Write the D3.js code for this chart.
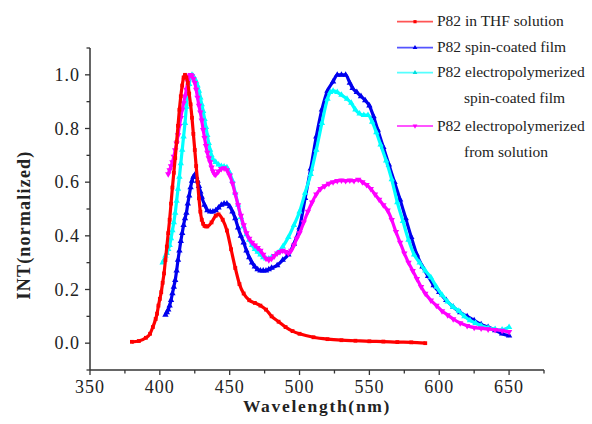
<!DOCTYPE html>
<html><head><meta charset="utf-8">
<script src="https://cdn.jsdelivr.net/npm/d3@7"></script>
<style>
body{margin:0;background:#fff;}
svg{display:block;}
</style></head>
<body><svg id="chart" width="592" height="424" font-family="'Liberation Serif','Times New Roman','DejaVu Serif',serif"></svg>
<script>
// ---- data ----
const redWl  = [380,385,390,393,395,397,398,399,400,401,402,403,404,405,406,407,408,409,410,411,412,413,414,415,416,417,418,419,420,421,422,423,424,425,426,427,428,429,430,431,432,433,434,437,440,442,445,448,451,454,457,460,464,468,472,476,480,485,490,495,500,510,520,530,540,550,560,570,580,590];
const redInt = [0.005,0.008,0.02,0.035,0.06,0.09,0.11,0.14,0.165,0.19,0.225,0.26,0.31,0.36,0.41,0.46,0.52,0.58,0.635,0.69,0.75,0.81,0.87,0.92,0.96,0.99,1.0,0.99,0.97,0.93,0.89,0.84,0.78,0.72,0.66,0.6,0.54,0.49,0.46,0.445,0.437,0.435,0.435,0.45,0.475,0.48,0.46,0.42,0.35,0.28,0.22,0.185,0.16,0.15,0.14,0.125,0.1,0.08,0.06,0.045,0.035,0.022,0.015,0.011,0.009,0.007,0.006,0.004,0.003,0.0];

const blueWl  = [404,405,406,407,408,409,410,411,412,413,414,415,416,417,418,419,420,421,422,423,424,425,426,427,428,429,430,432,434,436,438,440,442,444,446,448,450,452,454,456,458,460,462,464,466,468,470,472,474,476,478,480,484,488,492,496,500,504,508,512,516,520,524,527,530,533,536,538,541,544,547,550,553,556,560,564,568,572,576,580,584,588,592,596,600,605,610,615,620,625,630,635,640,645,650];
const blueInt = [0.105,0.115,0.125,0.14,0.16,0.185,0.21,0.235,0.27,0.31,0.345,0.38,0.41,0.44,0.465,0.485,0.52,0.55,0.58,0.605,0.62,0.627,0.62,0.605,0.585,0.565,0.545,0.515,0.495,0.49,0.49,0.495,0.505,0.515,0.52,0.52,0.51,0.49,0.465,0.43,0.4,0.375,0.345,0.32,0.3,0.285,0.275,0.27,0.27,0.27,0.275,0.28,0.29,0.31,0.33,0.37,0.43,0.54,0.65,0.77,0.87,0.94,0.975,1.0,1.0,1.0,0.97,0.95,0.935,0.92,0.905,0.885,0.845,0.795,0.73,0.665,0.6,0.535,0.465,0.395,0.33,0.285,0.25,0.215,0.19,0.16,0.135,0.115,0.1,0.085,0.07,0.06,0.048,0.035,0.028];

const cyanWl  = [402,403,404,405,406,407,408,409,410,411,412,413,414,415,416,417,418,419,420,421,422,423,424,425,426,427,428,429,430,431,432,433,434,435,436,437,438,440,442,444,446,448,450,452,454,456,458,460,462,464,466,468,470,472,474,476,478,480,484,488,492,496,500,504,508,512,516,520,522,524,527,530,534,537,540,543,546,549,552,555,558,562,566,570,574,578,582,586,590,594,598,602,606,610,614,618,622,626,630,635,640,645,650];
const cyanInt = [0.3,0.31,0.325,0.335,0.35,0.365,0.39,0.42,0.45,0.485,0.53,0.575,0.62,0.67,0.72,0.77,0.82,0.88,0.93,0.965,0.99,1.0,0.995,0.985,0.975,0.96,0.94,0.915,0.89,0.865,0.835,0.805,0.775,0.745,0.72,0.7,0.685,0.675,0.665,0.66,0.658,0.655,0.635,0.605,0.56,0.515,0.47,0.435,0.405,0.385,0.365,0.35,0.34,0.33,0.32,0.315,0.315,0.32,0.335,0.36,0.395,0.44,0.49,0.56,0.63,0.72,0.82,0.91,0.935,0.94,0.935,0.925,0.91,0.895,0.87,0.855,0.85,0.85,0.825,0.785,0.74,0.68,0.61,0.525,0.455,0.385,0.33,0.3,0.27,0.245,0.21,0.18,0.155,0.135,0.12,0.1,0.085,0.075,0.065,0.057,0.052,0.05,0.06];

const magWl  = [406,407,408,409,410,411,412,413,414,415,416,417,418,419,420,421,422,423,424,425,426,427,428,429,430,431,432,433,434,435,436,437,438,439,440,442,444,446,448,450,452,454,456,458,460,462,464,466,468,470,472,474,476,478,480,482,484,486,488,490,492,494,496,498,500,503,506,509,512,515,518,521,524,527,530,533,536,539,542,545,548,551,554,557,560,563,566,569,572,575,578,581,584,587,590,594,598,602,606,610,615,620,625,630,635,640,645,650];
const magInt = [0.63,0.645,0.66,0.675,0.695,0.72,0.745,0.775,0.81,0.84,0.87,0.895,0.92,0.945,0.975,0.995,1.0,0.995,0.985,0.97,0.945,0.915,0.885,0.86,0.83,0.795,0.765,0.735,0.71,0.69,0.675,0.655,0.64,0.63,0.628,0.64,0.65,0.652,0.645,0.625,0.595,0.555,0.515,0.475,0.44,0.41,0.39,0.375,0.365,0.355,0.345,0.33,0.315,0.31,0.315,0.325,0.335,0.34,0.345,0.34,0.335,0.345,0.365,0.39,0.41,0.45,0.49,0.525,0.555,0.575,0.585,0.595,0.6,0.605,0.607,0.605,0.607,0.605,0.61,0.6,0.59,0.575,0.555,0.535,0.515,0.495,0.46,0.415,0.375,0.335,0.3,0.27,0.24,0.21,0.185,0.16,0.14,0.12,0.105,0.09,0.075,0.065,0.058,0.055,0.052,0.05,0.047,0.042];

const xTicks = [350,400,450,500,550,600,650];
const yTicks = [0.0,0.2,0.4,0.6,0.8,1.0];
const seriesNames = ["P82 in THF solution","P82 spin-coated film","P82 electropolymerized","P82 electropolymerized"];
const seriesNames2 = ["","","spin-coated film","from solution"];
const xTitle = "Wavelength(nm)";
const yTitle = "INT(normalized)";

// ---- chart ----
const svg = d3.select("#chart");
const x = d3.scaleLinear().domain([350,675]).range([90,544]);
const y = d3.scaleLinear().domain([-0.1,1.1]).range([370,48]);

const series = [
  {wl:blueWl, v:blueInt, color:"#0000ee", sym:d3.symbolTriangle, rot:0, size:11},
  {wl:cyanWl, v:cyanInt, color:"#00ffff", sym:d3.symbolTriangle, rot:0, size:11},
  {wl:magWl,  v:magInt,  color:"#ff00ff", sym:d3.symbolTriangle, rot:180, size:11},
  {wl:redWl,  v:redInt,  color:"#ff0000", sym:d3.symbolSquare, rot:0, size:9}
];

const line = d3.line().x(d=>x(d[0])).y(d=>y(d[1])).curve(d3.curveMonotoneX);
series.forEach(s=>{
  const pts = s.wl.map((w,i)=>[w,s.v[i]]);
  svg.append("path").datum(pts).attr("d",line)
    .attr("fill","none").attr("stroke",s.color).attr("stroke-width",3.2).attr("stroke-linejoin","round");
  svg.append("g").selectAll("path").data(pts).join("path")
    .attr("d",d3.symbol().type(s.sym).size(s.size*1.6))
    .attr("transform",d=>`translate(${x(d[0])},${y(d[1])}) rotate(${s.rot})`)
    .attr("fill",s.color);
});

// axes
const axisColor = "#333";
const textColor = "#222";
const xAxis = svg.append("g").attr("transform","translate(0,370)");
xAxis.append("line").attr("x1",90).attr("x2",544).attr("stroke",axisColor).attr("stroke-width",1.5);
d3.range(350,676,25).forEach(v=>{
  const major = v%50===0;
  xAxis.append("line").attr("x1",x(v)).attr("x2",x(v)).attr("y1",0).attr("y2",major?5:3.5)
    .attr("stroke",axisColor).attr("stroke-width",1.3);
});
xAxis.selectAll("text.tl").data(xTicks).join("text").attr("class","tl")
  .attr("x",d=>x(d)).attr("y",23).attr("text-anchor","middle").attr("font-size",18)
  .attr("letter-spacing",1).attr("fill",textColor).text(d=>d);

const yAxis = svg.append("g").attr("transform","translate(90,0)");
yAxis.append("line").attr("y1",48).attr("y2",370).attr("stroke",axisColor).attr("stroke-width",1.5);
d3.range(-1,12).forEach(i=>{
  const v=i/10; const major = i%2===0 && i>=0 && i<=10;
  yAxis.append("line").attr("x1",major?-5:-3.5).attr("x2",0).attr("y1",y(v)).attr("y2",y(v))
    .attr("stroke",axisColor).attr("stroke-width",1.3);
});
yAxis.selectAll("text.tl").data(yTicks).join("text").attr("class","tl")
  .attr("x",-10).attr("y",d=>y(d)+6).attr("text-anchor","end").attr("font-size",18)
  .attr("letter-spacing",1).attr("fill",textColor).text(d=>d.toFixed(1));

svg.append("text").attr("x",317).attr("y",412).attr("text-anchor","middle").attr("fill",textColor)
  .attr("font-size",17.5).attr("font-weight","bold").attr("letter-spacing",1.7).text(xTitle);
svg.append("text").attr("transform","translate(30,225) rotate(-90)").attr("text-anchor","middle").attr("fill",textColor)
  .attr("font-size",18).attr("font-weight","bold").attr("letter-spacing",1.2).text(yTitle);

// legend
const legColors = ["#ff5555","#5555ff","#55ffff","#ff55ff"];
const legMark = ["#ff0000","#0000ee","#00dddd","#ff00ff"];
const legSyms = [d3.symbolSquare,d3.symbolTriangle,d3.symbolTriangle,d3.symbolTriangle];
const legRot = [0,0,0,180];
const legY = [21.7,47.7,72.7,126];
seriesNames.forEach((n,i)=>{
  const g = svg.append("g");
  g.append("line").attr("x1",397).attr("x2",433).attr("y1",legY[i]).attr("y2",legY[i])
    .attr("stroke",legColors[i]).attr("stroke-width",1.8);
  g.append("path").attr("d",d3.symbol().type(legSyms[i]).size(10))
    .attr("transform",`translate(415,${legY[i]}) rotate(${legRot[i]})`).attr("fill",legMark[i]);
  g.append("text").attr("x",437).attr("y",legY[i]+4.5).attr("font-size",15.5).attr("fill",textColor).text(n);
  if(seriesNames2[i]) g.append("text").attr("x",464).attr("y",legY[i]+30.5).attr("font-size",15.5).attr("fill",textColor).text(seriesNames2[i]);
});
</script></body></html>
